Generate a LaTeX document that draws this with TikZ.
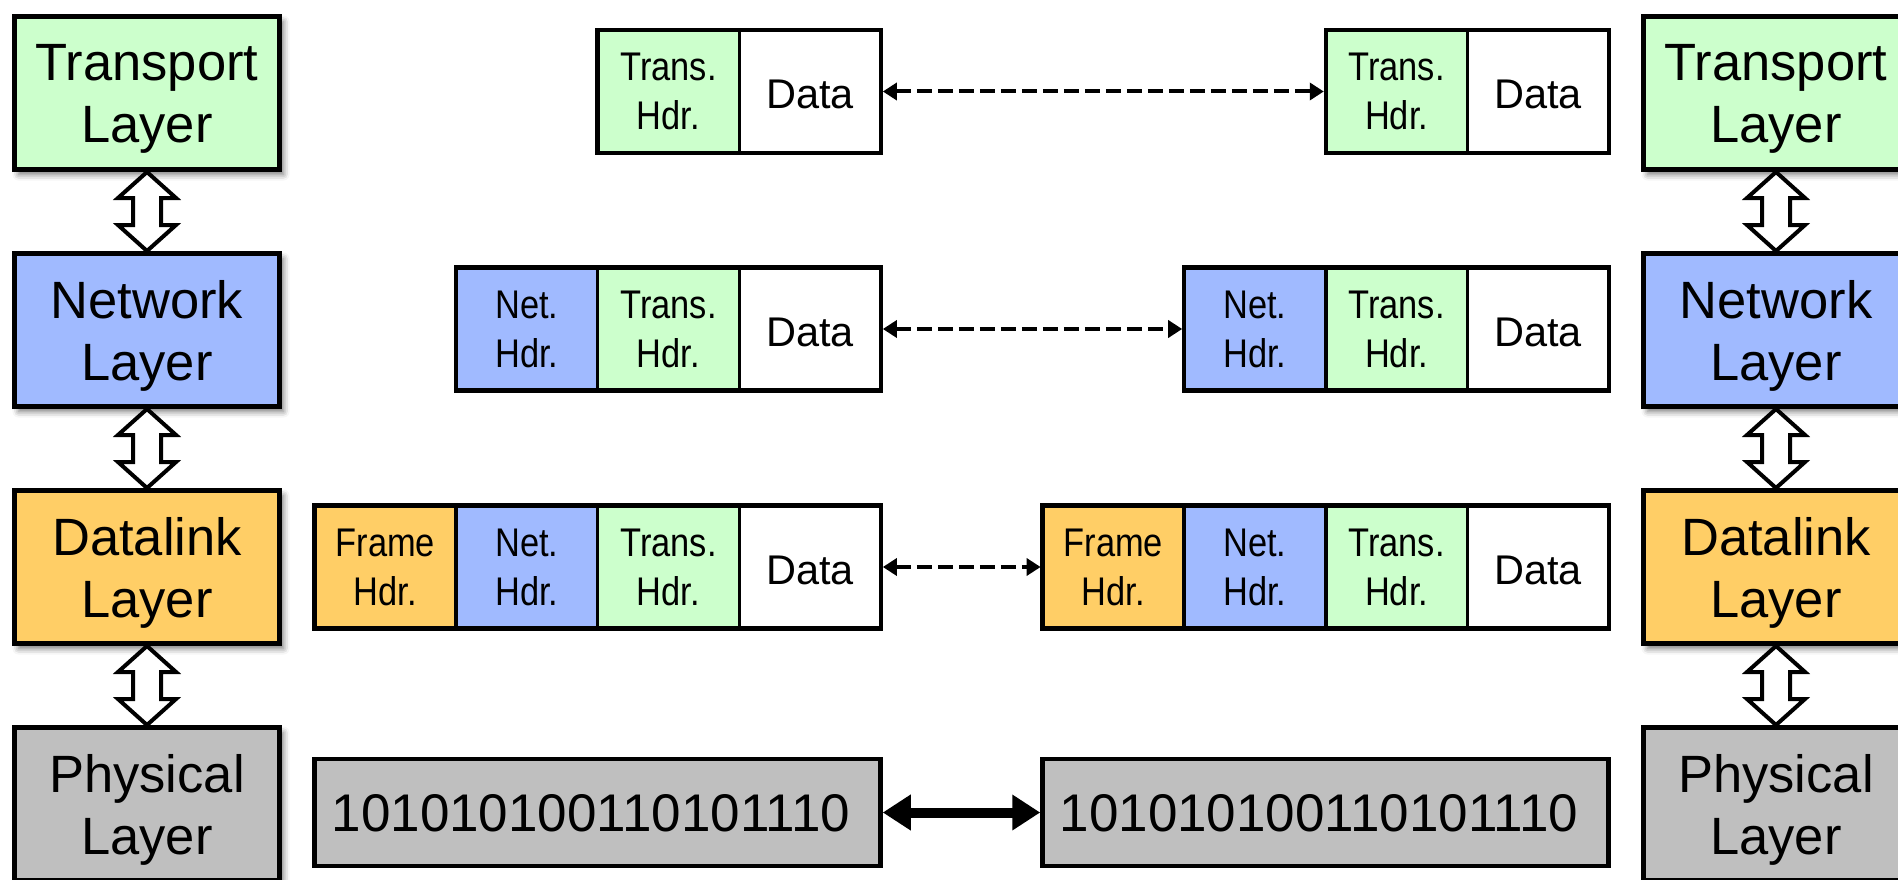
\documentclass[tikz,border=0pt]{standalone}
\usepackage{fontspec}
\setmainfont{Liberation Sans}
\newfontfamily\narrowsf[FakeStretch=0.86]{Liberation Sans}
\usetikzlibrary{arrows.meta,calc,shadows.blur}

\definecolor{transgreen}{RGB}{204,255,204}
\definecolor{netblue}{RGB}{160,186,255}
\definecolor{linkorange}{RGB}{255,206,102}
\definecolor{physgrey}{RGB}{191,191,191}

\tikzset{
  layerbox/.style={draw, line width=5pt, minimum width=265pt, minimum height=153pt,
    inner sep=0pt, align=center, text depth=-1pt, font=\fontsize{52.5}{62}\selectfont,
    blur shadow={shadow xshift=4pt, shadow yshift=-5pt, shadow blur radius=6pt, shadow opacity=55}},
  cell/.style={draw, line width=3.5pt, minimum width=141.6pt, minimum height=123pt,
    inner sep=0pt, outer sep=0pt, align=center,
    execute at begin node={\rule{0pt}{35pt}}},
  hdr/.style={cell, font=\narrowsf\fontsize{40}{49}\selectfont},
  datacell/.style={cell, fill=white, font=\fontsize{41.5}{48}\selectfont},
  frameout/.style={draw, line width=4.5pt},
  bits/.style={draw, line width=4.5pt, fill=physgrey, minimum width=566pt, minimum height=107pt,
    inner sep=0pt, text depth=-4pt, font=\fontsize{53}{60}\selectfont},
  peer/.style={line width=4pt, dash pattern=on 15pt off 6pt, shorten <=2pt, shorten >=2pt,
    {Triangle[length=14pt,width=17pt]}-{Triangle[length=14pt,width=17pt]}},
  wire/.style={line width=10pt, {Triangle[length=28pt,width=34pt]}-{Triangle[length=28pt,width=34pt]}},
  updown/.style={draw, fill=white, line width=4pt, line join=miter}
}

% hollow double arrow joining two stacked layer boxes
\newcommand\layerlink[2]{%
  \draw[updown] (#1.south) -- ($(#1.south)+(29,26)$) -- ($(#1.south)+(14,26)$)
    -- ($(#2.north)+(14,-26)$) -- ($(#2.north)+(29,-26)$) -- (#2.north)
    -- ($(#2.north)+(-29,-26)$) -- ($(#2.north)+(-14,-26)$)
    -- ($(#1.south)+(-14,26)$) -- ($(#1.south)+(-29,26)$) -- cycle;}

\begin{document}
\begin{tikzpicture}[x=1pt, y=-1pt]
\useasboundingbox (0,0) rectangle (1898,880);

% protocol stacks
\node[layerbox, fill=transgreen] (tL) at (147,93)  {Transport\\Layer};
\node[layerbox, fill=netblue]    (nL) at (147,330) {Network\\Layer};
\node[layerbox, fill=linkorange] (dL) at (147,567) {Datalink\\Layer};
\node[layerbox, fill=physgrey]   (pL) at (147,804) {Physical\\Layer};

\node[layerbox, fill=transgreen] (tR) at (1776,93)  {Transport\\Layer};
\node[layerbox, fill=netblue]    (nR) at (1776,330) {Network\\Layer};
\node[layerbox, fill=linkorange] (dR) at (1776,567) {Datalink\\Layer};
\node[layerbox, fill=physgrey]   (pR) at (1776,804) {Physical\\Layer};

\layerlink{tL}{nL}
\layerlink{nL}{dL}
\layerlink{dL}{pL}
\layerlink{tR}{nR}
\layerlink{nR}{dR}
\layerlink{dR}{pR}

% transport segments
\node[hdr, fill=transgreen] (t1L) at (668.45,91.5) {Trans.\\Hdr.};
\node[datacell]             (d1L) at (810.05,91.5) {Data};
\draw[frameout] (t1L.north west) rectangle (d1L.south east);

\node[hdr, fill=transgreen] (t1R) at (1396.6,91.5) {Trans.\\Hdr.};
\node[datacell]             (d1R) at (1538.2,91.5) {Data};
\draw[frameout] (t1R.north west) rectangle (d1R.south east);

% network packets
\node[hdr, fill=netblue]    (n2L) at (526.85,329) {Net.\\Hdr.};
\node[hdr, fill=transgreen] (t2L) at (668.45,329) {Trans.\\Hdr.};
\node[datacell]             (d2L) at (810.05,329) {Data};
\draw[frameout] (n2L.north west) rectangle (d2L.south east);

\node[hdr, fill=netblue]    (n2R) at (1255.0,329) {Net.\\Hdr.};
\node[hdr, fill=transgreen] (t2R) at (1396.6,329) {Trans.\\Hdr.};
\node[datacell]             (d2R) at (1538.2,329) {Data};
\draw[frameout] (n2R.north west) rectangle (d2R.south east);

% datalink frames
\node[hdr, fill=linkorange] (f3L) at (385.25,567) {Frame\\Hdr.};
\node[hdr, fill=netblue]    (n3L) at (526.85,567) {Net.\\Hdr.};
\node[hdr, fill=transgreen] (t3L) at (668.45,567) {Trans.\\Hdr.};
\node[datacell]             (d3L) at (810.05,567) {Data};
\draw[frameout] (f3L.north west) rectangle (d3L.south east);

\node[hdr, fill=linkorange] (f3R) at (1113.4,567) {Frame\\Hdr.};
\node[hdr, fill=netblue]    (n3R) at (1255.0,567) {Net.\\Hdr.};
\node[hdr, fill=transgreen] (t3R) at (1396.6,567) {Trans.\\Hdr.};
\node[datacell]             (d3R) at (1538.2,567) {Data};
\draw[frameout] (f3R.north west) rectangle (d3R.south east);

% physical bit streams
\node[bits] (b4L) at (597.5,812.5)  {101010100110101110\hspace*{13pt}};
\node[bits] (b4R) at (1325.5,812.5) {101010100110101110\hspace*{13pt}};

% peer-to-peer exchanges
\draw[peer] (d1L.east) -- (t1R.west);
\draw[peer] (d2L.east) -- (n2R.west);
\draw[peer] (d3L.east) -- (f3R.west);
\draw[wire] (b4L.east) -- (b4R.west);
\end{tikzpicture}
\end{document}
